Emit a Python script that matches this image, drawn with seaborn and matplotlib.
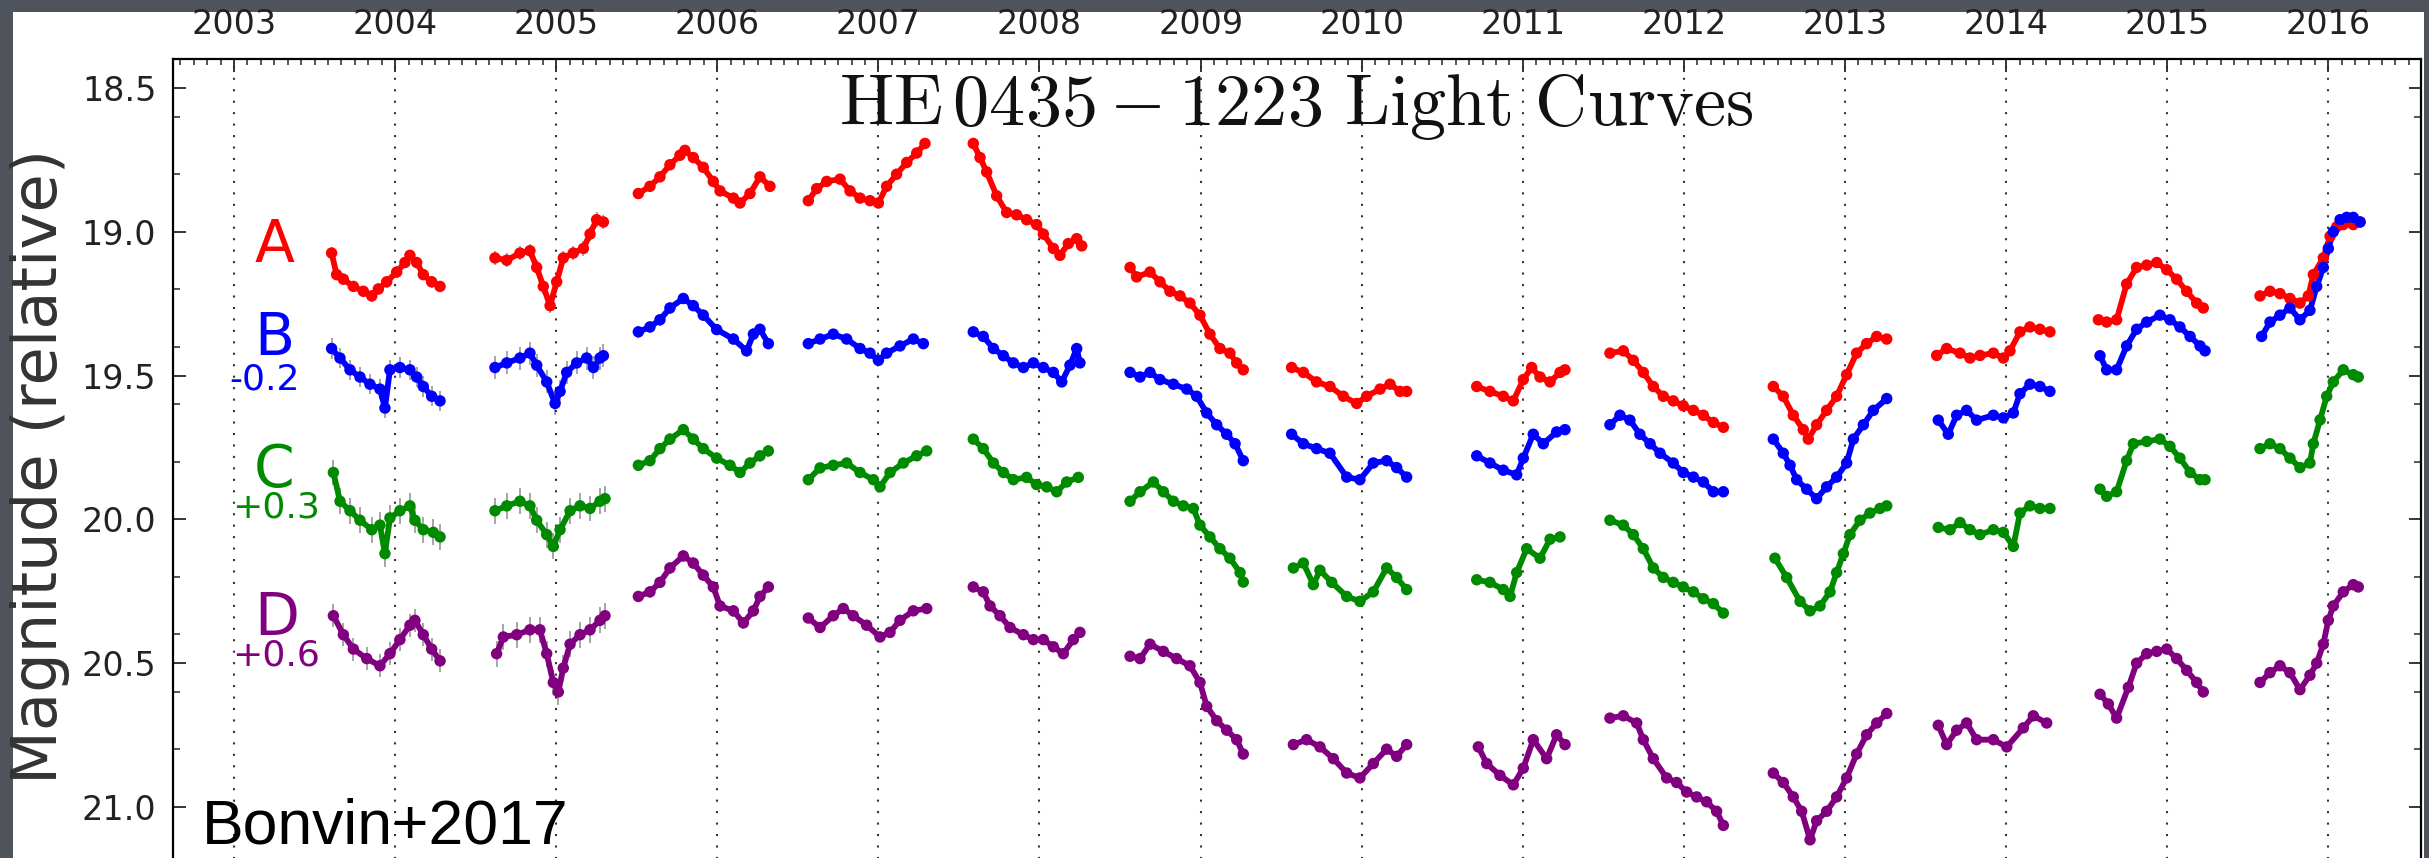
import numpy as np
import pandas as pd
import matplotlib
matplotlib.use("Agg")
import matplotlib.pyplot as plt
import seaborn as sns
from matplotlib.ticker import MultipleLocator, FormatStrFormatter, FixedLocator
from matplotlib.patches import Rectangle

# ---------------------------------------------------------------------------
# Light-curve data: epoch (decimal year) and intrinsic magnitude per image.
# ---------------------------------------------------------------------------
A_year = [
    2003.606, 2003.637, 2003.679, 2003.741, 2003.803, 2003.855, 2003.896, 2003.948, 2004.010, 2004.061, 2004.092, 2004.134, 2004.175, 2004.227, 2004.279,
    2004.620, 2004.693, 2004.775, 2004.837, 2004.879, 2004.920, 2004.962, 2005.003, 2005.044, 2005.106, 2005.169, 2005.210, 2005.251, 2005.293,
    2005.510, 2005.582, 2005.644, 2005.706, 2005.768, 2005.799, 2005.851, 2005.913, 2005.975, 2006.017, 2006.100, 2006.141, 2006.203, 2006.265, 2006.327,
    2006.565, 2006.617, 2006.679, 2006.762, 2006.824, 2006.886, 2006.948, 2007.000, 2007.051, 2007.113, 2007.176, 2007.238, 2007.289,
    2007.589, 2007.631, 2007.672, 2007.734, 2007.796, 2007.858, 2007.920, 2007.982, 2008.024, 2008.086, 2008.127, 2008.179, 2008.231, 2008.262,
    2008.562, 2008.603, 2008.686, 2008.748, 2008.810, 2008.872, 2008.934, 2008.996, 2009.058, 2009.120, 2009.182, 2009.224, 2009.265,
    2009.565, 2009.638, 2009.720, 2009.803, 2009.886, 2009.969, 2010.031, 2010.114, 2010.176, 2010.238, 2010.279,
    2010.714, 2010.796, 2010.879, 2010.941, 2011.003, 2011.055, 2011.107, 2011.169, 2011.231, 2011.262,
    2011.541, 2011.624, 2011.686, 2011.748, 2011.810, 2011.872, 2011.934, 2011.996, 2012.059, 2012.121, 2012.183, 2012.245,
    2012.555, 2012.617, 2012.679, 2012.741, 2012.772, 2012.824, 2012.886, 2012.948, 2013.010, 2013.072, 2013.134, 2013.197, 2013.259,
    2013.569, 2013.631, 2013.714, 2013.776, 2013.838, 2013.921, 2013.983, 2014.024, 2014.086, 2014.148, 2014.210, 2014.272,
    2014.573, 2014.624, 2014.686, 2014.748, 2014.810, 2014.873, 2014.935, 2014.997, 2015.059, 2015.121, 2015.183, 2015.224,
    2015.576, 2015.638, 2015.700, 2015.762, 2015.824, 2015.876, 2015.907, 2015.969, 2016.011, 2016.052, 2016.093, 2016.155, 2016.197,
]
A_mag = [
    19.074, 19.149, 19.165, 19.190, 19.207, 19.223, 19.199, 19.174, 19.140, 19.107, 19.082, 19.107, 19.149, 19.174, 19.190,
    19.091, 19.099, 19.074, 19.066, 19.124, 19.190, 19.257, 19.174, 19.091, 19.074, 19.058, 19.008, 18.958, 18.966,
    18.867, 18.842, 18.809, 18.767, 18.734, 18.717, 18.742, 18.776, 18.825, 18.858, 18.883, 18.900, 18.867, 18.809, 18.842,
    18.892, 18.850, 18.825, 18.817, 18.858, 18.883, 18.892, 18.900, 18.842, 18.800, 18.759, 18.726, 18.693,
    18.693, 18.742, 18.792, 18.875, 18.933, 18.941, 18.958, 18.975, 19.008, 19.058, 19.082, 19.041, 19.024, 19.049,
    19.124, 19.157, 19.140, 19.174, 19.207, 19.223, 19.248, 19.290, 19.356, 19.406, 19.422, 19.456, 19.480,
    19.472, 19.489, 19.522, 19.538, 19.572, 19.597, 19.572, 19.547, 19.530, 19.555, 19.555,
    19.538, 19.555, 19.572, 19.588, 19.514, 19.472, 19.505, 19.522, 19.489, 19.480,
    19.422, 19.414, 19.447, 19.489, 19.538, 19.572, 19.588, 19.605, 19.621, 19.638, 19.663, 19.680,
    19.538, 19.572, 19.638, 19.688, 19.721, 19.671, 19.621, 19.572, 19.497, 19.422, 19.389, 19.364, 19.373,
    19.430, 19.406, 19.422, 19.439, 19.430, 19.422, 19.439, 19.414, 19.348, 19.331, 19.339, 19.348,
    19.306, 19.314, 19.306, 19.182, 19.124, 19.116, 19.107, 19.132, 19.165, 19.207, 19.248, 19.265,
    19.223, 19.207, 19.215, 19.232, 19.248, 19.223, 19.149, 19.091, 19.016, 18.983, 18.975, 18.975, 18.966,
]

B_year = [
    2003.606, 2003.658, 2003.720, 2003.782, 2003.844, 2003.906, 2003.937, 2003.968, 2004.030, 2004.092, 2004.134, 2004.175, 2004.227, 2004.279,
    2004.620, 2004.693, 2004.775, 2004.837, 2004.879, 2004.941, 2004.993, 2005.024, 2005.065, 2005.127, 2005.189, 2005.231, 2005.272, 2005.293,
    2005.510, 2005.582, 2005.644, 2005.706, 2005.789, 2005.851, 2005.913, 2005.996, 2006.100, 2006.182, 2006.224, 2006.265, 2006.317,
    2006.565, 2006.638, 2006.720, 2006.803, 2006.886, 2006.948, 2007.000, 2007.051, 2007.134, 2007.217, 2007.279,
    2007.589, 2007.651, 2007.714, 2007.776, 2007.838, 2007.900, 2007.962, 2008.024, 2008.086, 2008.138, 2008.189, 2008.231, 2008.251,
    2008.562, 2008.624, 2008.686, 2008.748, 2008.831, 2008.914, 2008.976, 2009.038, 2009.100, 2009.162, 2009.214, 2009.265,
    2009.565, 2009.638, 2009.720, 2009.803, 2009.907, 2009.989, 2010.072, 2010.155, 2010.217, 2010.279,
    2010.714, 2010.796, 2010.879, 2010.962, 2011.003, 2011.065, 2011.127, 2011.210, 2011.262,
    2011.541, 2011.603, 2011.665, 2011.727, 2011.790, 2011.852, 2011.934, 2011.996, 2012.059, 2012.121, 2012.183, 2012.245,
    2012.555, 2012.617, 2012.659, 2012.700, 2012.762, 2012.824, 2012.886, 2012.948, 2013.010, 2013.052, 2013.114, 2013.176, 2013.259,
    2013.579, 2013.641, 2013.693, 2013.755, 2013.817, 2013.921, 2013.983, 2014.045, 2014.086, 2014.148, 2014.210, 2014.272,
    2014.583, 2014.624, 2014.686, 2014.748, 2014.810, 2014.873, 2014.955, 2015.017, 2015.079, 2015.142, 2015.204, 2015.235,
    2015.586, 2015.638, 2015.700, 2015.762, 2015.824, 2015.886, 2015.928, 2015.969, 2016.000, 2016.031, 2016.073, 2016.114, 2016.155, 2016.197,
]
B_mag = [
    19.606, 19.639, 19.680, 19.705, 19.730, 19.747, 19.813, 19.680, 19.672, 19.680, 19.705, 19.738, 19.772, 19.788,
    19.672, 19.656, 19.639, 19.622, 19.664, 19.722, 19.797, 19.755, 19.689, 19.656, 19.639, 19.672, 19.639, 19.631,
    19.548, 19.531, 19.506, 19.465, 19.432, 19.457, 19.490, 19.540, 19.573, 19.614, 19.556, 19.539, 19.589,
    19.589, 19.573, 19.556, 19.573, 19.606, 19.622, 19.647, 19.622, 19.597, 19.573, 19.589,
    19.548, 19.564, 19.606, 19.631, 19.656, 19.672, 19.656, 19.672, 19.689, 19.722, 19.664, 19.606, 19.656,
    19.689, 19.705, 19.689, 19.714, 19.730, 19.747, 19.772, 19.830, 19.871, 19.904, 19.937, 19.996,
    19.904, 19.937, 19.954, 19.970, 20.053, 20.062, 20.004, 19.996, 20.020, 20.053,
    19.979, 20.004, 20.029, 20.045, 19.987, 19.904, 19.937, 19.896, 19.888,
    19.871, 19.838, 19.855, 19.904, 19.937, 19.970, 20.004, 20.037, 20.053, 20.070, 20.104, 20.104,
    19.921, 19.970, 20.012, 20.062, 20.095, 20.128, 20.087, 20.053, 20.004, 19.921, 19.871, 19.821, 19.780,
    19.855, 19.904, 19.838, 19.821, 19.855, 19.838, 19.847, 19.830, 19.763, 19.730, 19.738, 19.755,
    19.631, 19.680, 19.680, 19.597, 19.539, 19.514, 19.490, 19.506, 19.531, 19.564, 19.597, 19.614,
    19.564, 19.514, 19.490, 19.465, 19.506, 19.473, 19.390, 19.324, 19.258, 19.200, 19.158, 19.150, 19.150, 19.166,
]

C_year = [
    2003.617, 2003.658, 2003.720, 2003.782, 2003.855, 2003.906, 2003.937, 2003.968, 2004.030, 2004.092, 2004.123, 2004.175, 2004.237, 2004.279,
    2004.620, 2004.693, 2004.775, 2004.837, 2004.879, 2004.941, 2004.982, 2005.024, 2005.086, 2005.148, 2005.210, 2005.272, 2005.303,
    2005.510, 2005.582, 2005.644, 2005.706, 2005.789, 2005.851, 2005.913, 2005.996, 2006.079, 2006.141, 2006.203, 2006.265, 2006.317,
    2006.565, 2006.638, 2006.720, 2006.803, 2006.886, 2006.969, 2007.010, 2007.072, 2007.155, 2007.238, 2007.300,
    2007.589, 2007.651, 2007.714, 2007.776, 2007.838, 2007.920, 2007.982, 2008.045, 2008.107, 2008.169, 2008.241,
    2008.562, 2008.624, 2008.707, 2008.769, 2008.831, 2008.893, 2008.955, 2008.996, 2009.058, 2009.120, 2009.182, 2009.245, 2009.265,
    2009.576, 2009.638, 2009.700, 2009.741, 2009.814, 2009.907, 2009.989, 2010.072, 2010.155, 2010.217, 2010.279,
    2010.714, 2010.796, 2010.879, 2010.921, 2010.962, 2011.024, 2011.107, 2011.169, 2011.231,
    2011.541, 2011.624, 2011.686, 2011.748, 2011.810, 2011.872, 2011.934, 2011.996, 2012.059, 2012.121, 2012.183, 2012.245,
    2012.565, 2012.638, 2012.721, 2012.783, 2012.845, 2012.907, 2012.948, 2012.990, 2013.031, 2013.093, 2013.155, 2013.217, 2013.259,
    2013.579, 2013.652, 2013.714, 2013.776, 2013.838, 2013.921, 2013.983, 2014.045, 2014.086, 2014.148, 2014.210, 2014.272,
    2014.583, 2014.624, 2014.686, 2014.748, 2014.790, 2014.873, 2014.955, 2015.017, 2015.079, 2015.142, 2015.204, 2015.235,
    2015.576, 2015.638, 2015.700, 2015.762, 2015.824, 2015.886, 2015.907, 2015.949, 2015.990, 2016.031, 2016.093, 2016.155, 2016.186,
]
C_mag = [
    19.537, 19.637, 19.670, 19.703, 19.736, 19.720, 19.819, 19.695, 19.670, 19.653, 19.703, 19.736, 19.745, 19.761,
    19.670, 19.653, 19.637, 19.653, 19.703, 19.753, 19.794, 19.736, 19.670, 19.653, 19.662, 19.637, 19.628,
    19.512, 19.496, 19.454, 19.421, 19.388, 19.421, 19.454, 19.487, 19.512, 19.537, 19.504, 19.479, 19.462,
    19.562, 19.521, 19.512, 19.504, 19.537, 19.562, 19.587, 19.537, 19.504, 19.479, 19.462,
    19.421, 19.454, 19.504, 19.537, 19.562, 19.554, 19.579, 19.587, 19.604, 19.570, 19.554,
    19.637, 19.604, 19.570, 19.604, 19.637, 19.653, 19.662, 19.720, 19.761, 19.802, 19.835, 19.885, 19.918,
    19.869, 19.852, 19.927, 19.877, 19.919, 19.968, 19.985, 19.952, 19.869, 19.902, 19.944,
    19.910, 19.919, 19.944, 19.968, 19.885, 19.802, 19.835, 19.769, 19.761,
    19.703, 19.720, 19.753, 19.802, 19.869, 19.902, 19.919, 19.935, 19.952, 19.976, 19.993, 20.026,
    19.835, 19.902, 19.985, 20.018, 20.001, 19.952, 19.885, 19.819, 19.753, 19.703, 19.678, 19.662, 19.653,
    19.728, 19.736, 19.711, 19.736, 19.753, 19.736, 19.745, 19.794, 19.678, 19.653, 19.662, 19.662,
    19.595, 19.620, 19.604, 19.496, 19.437, 19.429, 19.421, 19.446, 19.487, 19.537, 19.562, 19.562,
    19.454, 19.437, 19.454, 19.487, 19.520, 19.504, 19.437, 19.354, 19.272, 19.222, 19.180, 19.197, 19.205,
]

D_year = [
    2003.617, 2003.679, 2003.741, 2003.824, 2003.906, 2003.968, 2004.030, 2004.092, 2004.123, 2004.175, 2004.227, 2004.279,
    2004.630, 2004.672, 2004.755, 2004.837, 2004.899, 2004.941, 2004.982, 2005.013, 2005.044, 2005.086, 2005.148, 2005.210, 2005.272, 2005.303,
    2005.510, 2005.582, 2005.644, 2005.706, 2005.789, 2005.851, 2005.913, 2005.975, 2006.017, 2006.100, 2006.162, 2006.224, 2006.265, 2006.317,
    2006.565, 2006.638, 2006.720, 2006.782, 2006.844, 2006.927, 2007.010, 2007.072, 2007.134, 2007.217, 2007.300,
    2007.589, 2007.651, 2007.693, 2007.755, 2007.817, 2007.900, 2007.962, 2008.024, 2008.086, 2008.148, 2008.210, 2008.251,
    2008.562, 2008.624, 2008.686, 2008.769, 2008.851, 2008.934, 2008.996, 2009.038, 2009.100, 2009.162, 2009.224, 2009.265,
    2009.576, 2009.658, 2009.741, 2009.824, 2009.907, 2009.989, 2010.072, 2010.155, 2010.217, 2010.279,
    2010.724, 2010.776, 2010.858, 2010.941, 2011.003, 2011.065, 2011.148, 2011.210, 2011.262,
    2011.541, 2011.624, 2011.707, 2011.748, 2011.810, 2011.893, 2011.955, 2012.017, 2012.079, 2012.141, 2012.203, 2012.245,
    2012.555, 2012.617, 2012.679, 2012.731, 2012.783, 2012.824, 2012.886, 2012.948, 2013.010, 2013.072, 2013.134, 2013.197, 2013.259,
    2013.579, 2013.631, 2013.693, 2013.755, 2013.817, 2013.921, 2014.004, 2014.107, 2014.169, 2014.252,
    2014.583, 2014.635, 2014.686, 2014.759, 2014.810, 2014.873, 2014.935, 2014.997, 2015.059, 2015.121, 2015.183, 2015.224,
    2015.576, 2015.638, 2015.700, 2015.762, 2015.824, 2015.886, 2015.928, 2015.969, 2016.000, 2016.031, 2016.093, 2016.155, 2016.186,
]
D_mag = [
    19.735, 19.801, 19.851, 19.884, 19.909, 19.867, 19.818, 19.768, 19.751, 19.801, 19.851, 19.892,
    19.867, 19.809, 19.801, 19.784, 19.784, 19.867, 19.967, 20.000, 19.917, 19.834, 19.801, 19.784, 19.751, 19.735,
    19.668, 19.652, 19.619, 19.569, 19.527, 19.552, 19.594, 19.635, 19.701, 19.718, 19.760, 19.718, 19.668, 19.635,
    19.743, 19.776, 19.735, 19.710, 19.735, 19.768, 19.809, 19.793, 19.751, 19.718, 19.710,
    19.635, 19.652, 19.701, 19.735, 19.776, 19.801, 19.818, 19.818, 19.843, 19.867, 19.818, 19.793,
    19.876, 19.884, 19.834, 19.859, 19.884, 19.909, 19.967, 20.050, 20.100, 20.133, 20.166, 20.216,
    20.183, 20.166, 20.191, 20.232, 20.282, 20.299, 20.249, 20.199, 20.224, 20.183,
    20.191, 20.249, 20.290, 20.323, 20.265, 20.166, 20.232, 20.149, 20.183,
    20.091, 20.083, 20.108, 20.166, 20.232, 20.299, 20.315, 20.348, 20.365, 20.382, 20.415, 20.464,
    20.282, 20.315, 20.365, 20.415, 20.514, 20.448, 20.415, 20.365, 20.299, 20.216, 20.149, 20.108, 20.075,
    20.116, 20.183, 20.133, 20.108, 20.166, 20.166, 20.191, 20.125, 20.083, 20.108,
    20.008, 20.042, 20.091, 19.984, 19.900, 19.867, 19.859, 19.851, 19.884, 19.925, 19.967, 20.000,
    19.967, 19.933, 19.909, 19.933, 19.992, 19.942, 19.900, 19.834, 19.751, 19.701, 19.652, 19.627, 19.635,
]

# Typical photometric error in each observing season (13 seasons)
A_err = [0.020, 0.025, 0.015, 0.010, 0.010, 0.008, 0.008, 0.008, 0.006, 0.006, 0.006, 0.008, 0.006]
B_err = [0.035, 0.040, 0.020, 0.012, 0.012, 0.010, 0.010, 0.010, 0.008, 0.008, 0.008, 0.010, 0.008]
C_err = [0.045, 0.045, 0.020, 0.012, 0.012, 0.010, 0.010, 0.010, 0.008, 0.008, 0.008, 0.010, 0.008]
D_err = [0.040, 0.045, 0.020, 0.012, 0.012, 0.012, 0.010, 0.012, 0.010, 0.010, 0.010, 0.015, 0.010]

images = ["A", "B", "C", "D"]
shifts = [0.0, -0.2, 0.3, 0.6]
shift_labels = ["", "-0.2", "+0.3", "+0.6"]
colors = ["#ff0000", "#0000ff", "#008a00", "#800080"]
year_ticks = list(range(2003, 2017))
mag_ticks = [18.5, 19.0, 19.5, 20.0, 20.5, 21.0]

# ---------------------------------------------------------------------------
# Long-form table; a season is a run of epochs without a gap > 0.15 yr
# ---------------------------------------------------------------------------
rows = []
for img, shift, yrs, mags, errs in zip(
        images, shifts,
        [A_year, B_year, C_year, D_year],
        [A_mag, B_mag, C_mag, D_mag],
        [A_err, B_err, C_err, D_err]):
    t = np.asarray(yrs)
    season = np.concatenate([[0], np.cumsum(np.diff(t) > 0.15)])
    for ti, mi, si in zip(t, mags, season):
        rows.append({"year": ti, "mag": mi + shift, "image": img,
                     "season": f"{img}{si}", "err": errs[si]})
df = pd.DataFrame(rows)

# ---------------------------------------------------------------------------
# Figure
# ---------------------------------------------------------------------------
sns.set_theme(style="white")
plt.rcParams["font.family"] = ["DejaVu Sans"]
plt.rcParams["mathtext.fontset"] = "cm"

W, H, DPI = 2429, 858, 100
fig = plt.figure(figsize=(W / DPI, H / DPI), dpi=DPI, facecolor="#4f535b")
fig.add_artist(Rectangle((13 / W, 0), (2424 - 13) / W, (H - 12) / H,
                         transform=fig.transFigure, facecolor="white",
                         edgecolor="none", zorder=-5))

y_top_px, y_bot_px = 59.2, 864.5
ax = fig.add_axes([173 / W, 1 - y_bot_px / H, (2421 - 173) / W, (y_bot_px - y_top_px) / H])
ax.set_facecolor("white")

palette = dict(zip(images, colors))

ax.errorbar(df["year"], df["mag"], yerr=df["err"], fmt="none",
            ecolor="#333333", elinewidth=1.1, alpha=0.55, zorder=1)
sns.lineplot(data=df, x="year", y="mag", hue="image", units="season",
             estimator=None, sort=False, palette=palette, lw=4.2,
             legend=False, ax=ax, zorder=2)
sns.scatterplot(data=df, x="year", y="mag", hue="image", palette=palette,
                s=68, linewidth=0, legend=False, ax=ax, zorder=3)

ax.set_xlim(2002.6214, 2016.5754)
ax.set_ylim(21.2, 18.4)
ax.set_xlabel("")
ax.set_ylabel("")

# top year axis
ax.xaxis.tick_top()
ax.xaxis.set_major_locator(FixedLocator(year_ticks))
ax.xaxis.set_minor_locator(MultipleLocator(1 / 12))
ax.set_xticklabels([str(y) for y in year_ticks])
ax.tick_params(axis="x", which="major", direction="in", length=9, width=1.3,
               top=True, bottom=False, labeltop=True, labelbottom=False,
               labelsize=24, labelcolor="#222222", pad=13)
ax.tick_params(axis="x", which="minor", direction="in", length=4, width=1.1,
               top=True, bottom=False)

ax.yaxis.set_major_locator(FixedLocator(mag_ticks))
ax.yaxis.set_minor_locator(MultipleLocator(0.2))
ax.yaxis.set_major_formatter(FormatStrFormatter("%.1f"))
ax.tick_params(axis="y", which="major", direction="in", length=9, width=1.3,
               left=True, right=True, labelsize=24, labelcolor="#222222", pad=12)
ax.tick_params(axis="y", which="minor", direction="in", length=5, width=1.1,
               left=True, right=True)

for sp in ax.spines.values():
    sp.set_color("black")
    sp.set_linewidth(1.6)

ax.grid(axis="x", which="major", color="black", alpha=0.8,
        linestyle=(0, (1, 4.5)), linewidth=1.5)
ax.grid(axis="y", visible=False)
ax.set_axisbelow(True)


def px_to_axes(xp, yp):
    return (xp - 173) / (2421 - 173), (y_bot_px - yp) / (y_bot_px - y_top_px)


# title inside the frame
tx, ty = px_to_axes(1296, 125)
ax.text(tx, ty, r"$\mathrm{HE\,0435-1223\ Light\ Curves}$", transform=ax.transAxes,
        ha="center", va="baseline", fontsize=52, color="#111111")

# image letters and their magnitude shifts
letter_pos = [(255, 262), (254, 355), (254, 487), (254, 635)]
shift_pos = [None, (229, 389), (232, 518), (232, 665)]
for img, col, lab, lp, sp in zip(images, colors, shift_labels, letter_pos, shift_pos):
    lx, ly = px_to_axes(*lp)
    ax.text(lx, ly, img, transform=ax.transAxes, color=col, fontsize=42,
            ha="left", va="baseline")
    if sp is not None:
        sx, sy = px_to_axes(*sp)
        ax.text(sx, sy, lab, transform=ax.transAxes, color=col, fontsize=26,
                ha="left", va="baseline")

bx, by = px_to_axes(202, 843)
ax.text(bx, by, "Bonvin+2017", transform=ax.transAxes, color="black",
        fontsize=45, family=["Liberation Sans", "DejaVu Sans"],
        ha="left", va="baseline", zorder=5)

fig.text(57 / W, 1 - 466 / H, "Magnitude (relative)", rotation=90,
         rotation_mode="anchor", ha="center", va="baseline",
         fontsize=45, color="#333333")

fig.savefig("out.png", dpi=DPI, facecolor=fig.get_facecolor())
